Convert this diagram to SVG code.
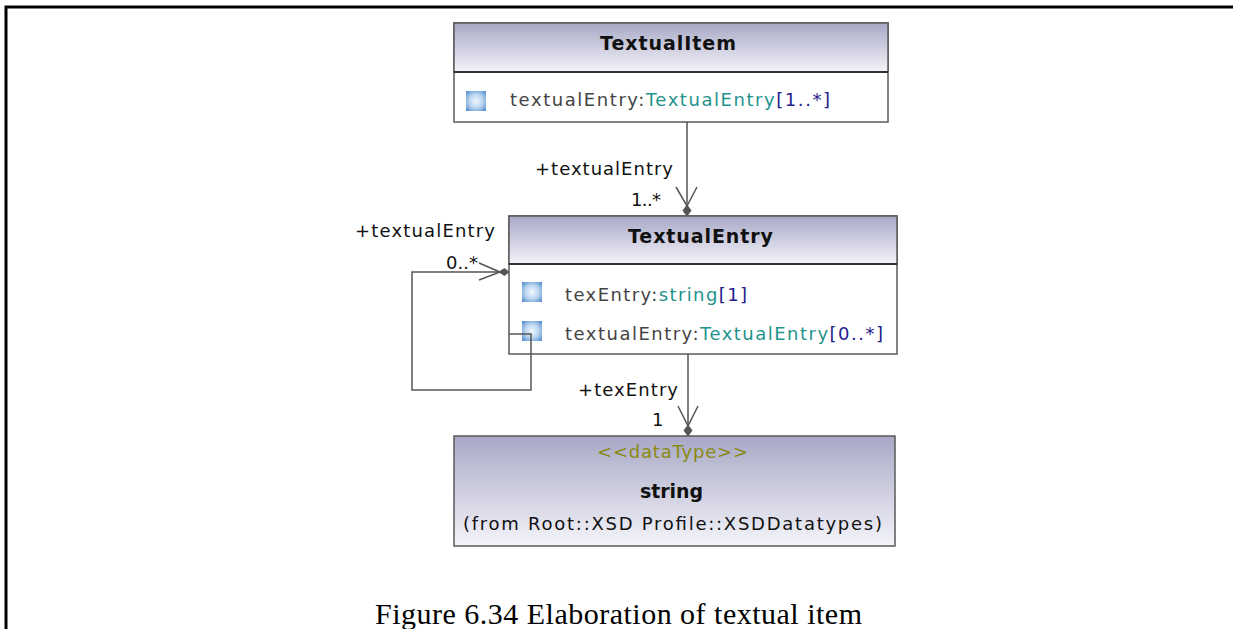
<svg xmlns="http://www.w3.org/2000/svg" width="1233" height="629" viewBox="0 0 1233 629">
<style>
.box{stroke:#5a5a5a;stroke-width:1.5}
.div{stroke:#303030;stroke-width:2}
.ttl{font-family:"DejaVu Sans","Liberation Sans",sans-serif;font-weight:bold;font-size:19px;fill:#111}
.att{font-family:"DejaVu Sans","Liberation Sans",sans-serif;font-size:18px;fill:#444}
.ty{fill:#1f938c}
.mu{fill:#22228a}
.lbl{font-family:"DejaVu Sans","Liberation Sans",sans-serif;font-size:18px;fill:#111}
.st{font-family:"DejaVu Sans","Liberation Sans",sans-serif;font-size:18px;fill:#8a8a10}
.con{fill:none;stroke:#555;stroke-width:1.5}
.dia{fill:#555;stroke:#555;stroke-width:1}
</style>
<defs>
<linearGradient id="hdr" x1="0" y1="0" x2="0" y2="1">
<stop offset="0" stop-color="#a8a8c6"/>
<stop offset="1" stop-color="#f4f4fa"/>
</linearGradient>
<radialGradient id="ico" cx="0.5" cy="0.5" r="0.7">
<stop offset="0" stop-color="#f2f8ff"/>
<stop offset="0.5" stop-color="#b8d4f0"/>
<stop offset="1" stop-color="#4a86c8"/>
</radialGradient>
</defs>
<g id="frame">
<path d="M6,629 V7 H1233" fill="none" stroke="#000" stroke-width="3"/>
</g>
<g id="TextualItem">
<rect x="454" y="23" width="434" height="99" fill="#fff" class="box"/>
<rect x="454" y="23" width="434" height="49" fill="url(#hdr)" class="box"/>
<line x1="454" y1="72" x2="888" y2="72" class="div"/>
<text x="600" y="50" class="ttl" textLength="136" lengthAdjust="spacing">TextualItem</text>
<rect x="466" y="91" width="20" height="20" fill="url(#ico)"/>
<text x="510" y="106" class="att" textLength="320" lengthAdjust="spacing">textualEntry:<tspan class="ty">TextualEntry</tspan><tspan class="mu">[1..*]</tspan></text>
</g>
<g id="TextualEntry">
<rect x="509" y="216" width="388" height="138" fill="#fff" class="box"/>
<rect x="509" y="216" width="388" height="48" fill="url(#hdr)" class="box"/>
<line x1="509" y1="264" x2="897" y2="264" class="div"/>
<text x="628" y="243" class="ttl" textLength="145" lengthAdjust="spacing">TextualEntry</text>
<rect x="522" y="282" width="20" height="20" fill="url(#ico)"/>
<text x="565" y="301" class="att" textLength="182" lengthAdjust="spacing">texEntry:<tspan class="ty">string</tspan><tspan class="mu">[1]</tspan></text>
<rect x="522" y="321" width="20" height="20" fill="url(#ico)"/>
<text x="565" y="340" class="att" textLength="318" lengthAdjust="spacing">textualEntry:<tspan class="ty">TextualEntry</tspan><tspan class="mu">[0..*]</tspan></text>
</g>
<g id="string">
<rect x="454" y="436" width="441" height="110" fill="url(#hdr)" class="box"/>
<text x="597" y="458" class="st" textLength="151" lengthAdjust="spacing">&lt;&lt;dataType&gt;&gt;</text>
<text x="640" y="498" class="ttl" textLength="63" lengthAdjust="spacing">string</text>
<text x="463" y="530" class="lbl" textLength="419" lengthAdjust="spacing">(from Root::XSD Profile::XSDDatatypes)</text>
</g>
<g id="connectors">
<path d="M687,122 V205" class="con"/>
<path d="M676,187 L687,206 L697,187" class="con"/>
<polygon points="687,205 691,210.5 687,216 683,210.5" class="dia"/>
<path d="M509,334 H531 V390 H412 V272 H500" class="con"/>
<path d="M479,263 L500,272 L479,280" class="con"/>
<polygon points="509,272 504.5,268.5 499,272 504.5,275.5" class="dia"/>
<path d="M688,354 V425" class="con"/>
<path d="M678,406 L688,426 L698,406" class="con"/>
<polygon points="688,425 692,430.5 688,436 684,430.5" class="dia"/>
<text x="535" y="175" class="lbl" textLength="138" lengthAdjust="spacing">+textualEntry</text>
<text x="631" y="206" class="lbl" textLength="30" lengthAdjust="spacing">1..*</text>
<text x="355" y="237" class="lbl" textLength="140" lengthAdjust="spacing">+textualEntry</text>
<text x="446" y="269" class="lbl" textLength="32" lengthAdjust="spacing">0..*</text>
<text x="578" y="396" class="lbl" textLength="100" lengthAdjust="spacing">+texEntry</text>
<text x="652" y="426" class="lbl">1</text>
</g>
<text x="375" y="624" font-family="'Liberation Serif','Times New Roman',serif" font-size="30" fill="#000" textLength="487" lengthAdjust="spacing">Figure 6.34 Elaboration of textual item</text>
</svg>
